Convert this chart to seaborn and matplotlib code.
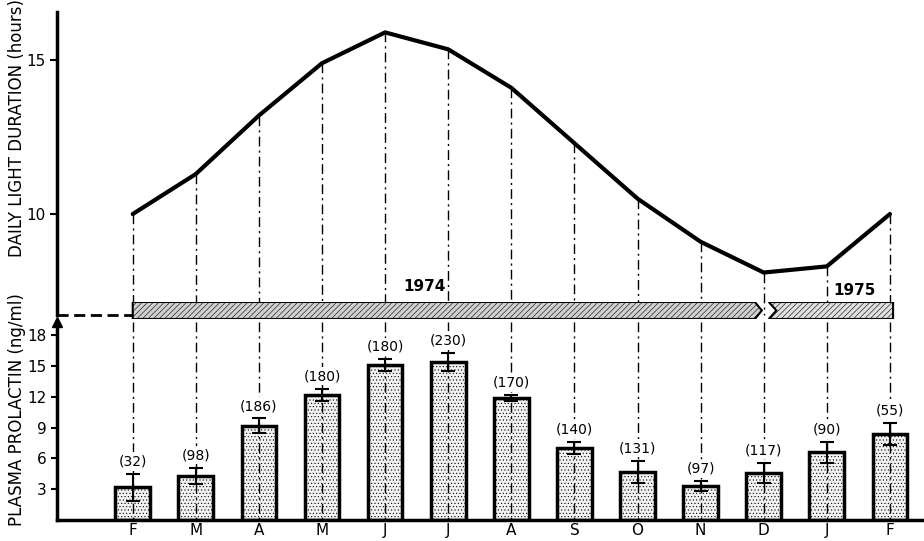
import numpy as np
import pandas as pd
import seaborn as sns
import matplotlib.pyplot as plt
from matplotlib.patches import Polygon

# ------------------------------------------------------------
# data
# ------------------------------------------------------------
months = ['F', 'M', 'A', 'M', 'J', 'J', 'A', 'S', 'O', 'N', 'D', 'J', 'F']
daylight = [10.0, 11.3, 13.2, 14.9, 15.9, 15.35, 14.1, 12.3, 10.5, 9.1, 8.1, 8.3, 10.0]
prolactin = [3.2, 4.3, 9.2, 12.2, 15.1, 15.4, 11.9, 7.0, 4.7, 3.3, 4.6, 6.6, 8.4]
prolactin_err = [1.3, 0.8, 0.7, 0.6, 0.6, 0.9, 0.3, 0.6, 1.1, 0.5, 1.0, 1.0, 1.1]
counts = [32, 98, 186, 180, 180, 230, 170, 140, 131, 97, 117, 90, 55]

pos = np.arange(len(months))
df = pd.DataFrame({'pos': pos, 'daylight': daylight, 'prolactin': prolactin})

sns.set_style('white')
plt.rcParams['font.family'] = ['DejaVu Sans']
plt.rcParams['hatch.linewidth'] = 0.4
for k in ['text.color', 'axes.labelcolor', 'xtick.color', 'ytick.color', 'axes.edgecolor']:
    plt.rcParams[k] = 'black'

fig = plt.figure(figsize=(9.24, 5.41), dpi=100)

xlim = (-1.2, 12.54)
dashdot = (0, (7, 3, 1.5, 3))

# ------------------------------------------------------------
# top panel: daily light duration
# ------------------------------------------------------------
ax_top = fig.add_axes([0.0617, 0.4177, 0.9383, 0.560])
sns.lineplot(data=df, x='pos', y='daylight', ax=ax_top, color='black', lw=3)
ax_top.set_xlim(*xlim)
ax_top.set_ylim(6.72, 16.56)
for x, y in zip(pos, daylight):
    ax_top.plot([x, x], [y, 6.72], color='black', lw=1, ls=dashdot, clip_on=False)
for s in ['top', 'right', 'bottom']:
    ax_top.spines[s].set_visible(False)
ax_top.spines['left'].set_linewidth(2.5)
ax_top.set_yticks([10, 15])
ax_top.set_xticks([])
ax_top.tick_params(axis='y', direction='out', length=5, width=1.5, labelsize=11, left=True)
ax_top.set_xlabel('')
ax_top.set_ylabel('')

# ------------------------------------------------------------
# band with years
# ------------------------------------------------------------
ax_band = fig.add_axes([0.0617, 0.4104, 0.9383, 0.0314])
ax_band.set_xlim(*xlim)
ax_band.set_ylim(0, 1)
ax_band.axis('off')
band74 = Polygon([(0, 0), (9.86, 0), (9.97, 0.5), (9.86, 1), (0, 1)], closed=True,
                 facecolor='#d0d0d0', edgecolor='black', lw=1.5, hatch='//////')
band75 = Polygon([(10.08, 0), (12.05, 0), (12.05, 1), (10.08, 1), (10.2, 0.5)], closed=True,
                 facecolor='#e0e0e0', edgecolor='black', lw=1.5, hatch='//////')
ax_band.add_patch(band74)
ax_band.add_patch(band75)
ax_band.plot([xlim[0], 0], [0.25, 0.25], color='black', lw=2, ls=(0, (4, 2)), clip_on=False)
ax_band.text(4.63, 1.9, '1974', fontsize=11, fontweight='bold', ha='center', va='center')
ax_band.text(11.44, 1.7, '1975', fontsize=11, fontweight='bold', ha='center', va='center')

# ------------------------------------------------------------
# bottom panel: plasma prolactin
# ------------------------------------------------------------
ax_bot = fig.add_axes([0.0617, 0.0388, 0.9383, 0.366])
sns.barplot(data=df, x='pos', y='prolactin', native_scale=True, width=0.55,
            color='#f2f2f2', ax=ax_bot, zorder=2)
for p in ax_bot.patches:
    p.set_hatch('.....')
    p.set_edgecolor('black')
    p.set_linewidth(2.5)
ax_bot.set_xlim(*xlim)
ax_bot.set_ylim(0, 19.3)
for x in pos:
    ax_bot.plot([x, x], [19.3, 0], color='black', lw=1, ls=dashdot, zorder=3)
ax_bot.errorbar(pos, prolactin, yerr=prolactin_err, fmt='none', ecolor='black',
                elinewidth=1.5, capsize=5, capthick=1.5, zorder=5)
for x, y, e, n in zip(pos, prolactin, prolactin_err, counts):
    ax_bot.text(x, y + e + 1.2, f'({n})', fontsize=10, ha='center', va='center', zorder=4,
                bbox=dict(facecolor='white', edgecolor='none', pad=1.5))
for s in ['top', 'right']:
    ax_bot.spines[s].set_visible(False)
ax_bot.spines['left'].set_linewidth(2.5)
ax_bot.spines['bottom'].set_linewidth(2.5)
ax_bot.plot(0, 1, marker='^', color='black', markersize=7, transform=ax_bot.transAxes,
            clip_on=False)
ax_bot.set_yticks([3, 6, 9, 12, 15, 18])
ax_bot.set_xticks(pos)
ax_bot.set_xticklabels(months, fontsize=11)
ax_bot.tick_params(axis='y', direction='out', length=4, width=1.5, labelsize=11, left=True)
ax_bot.tick_params(axis='x', length=0, pad=2)
ax_bot.set_xlabel('')
ax_bot.set_ylabel('')

# axis titles
fig.text(17 / 924, 1 - 128 / 541, 'DAILY LIGHT DURATION (hours)', rotation=90,
         fontsize=12, ha='center', va='center')
fig.text(17 / 924, 1 - 410 / 541, 'PLASMA PROLACTIN (ng/ml)', rotation=90,
         fontsize=12, ha='center', va='center')

fig.savefig('out.png', dpi=100)
